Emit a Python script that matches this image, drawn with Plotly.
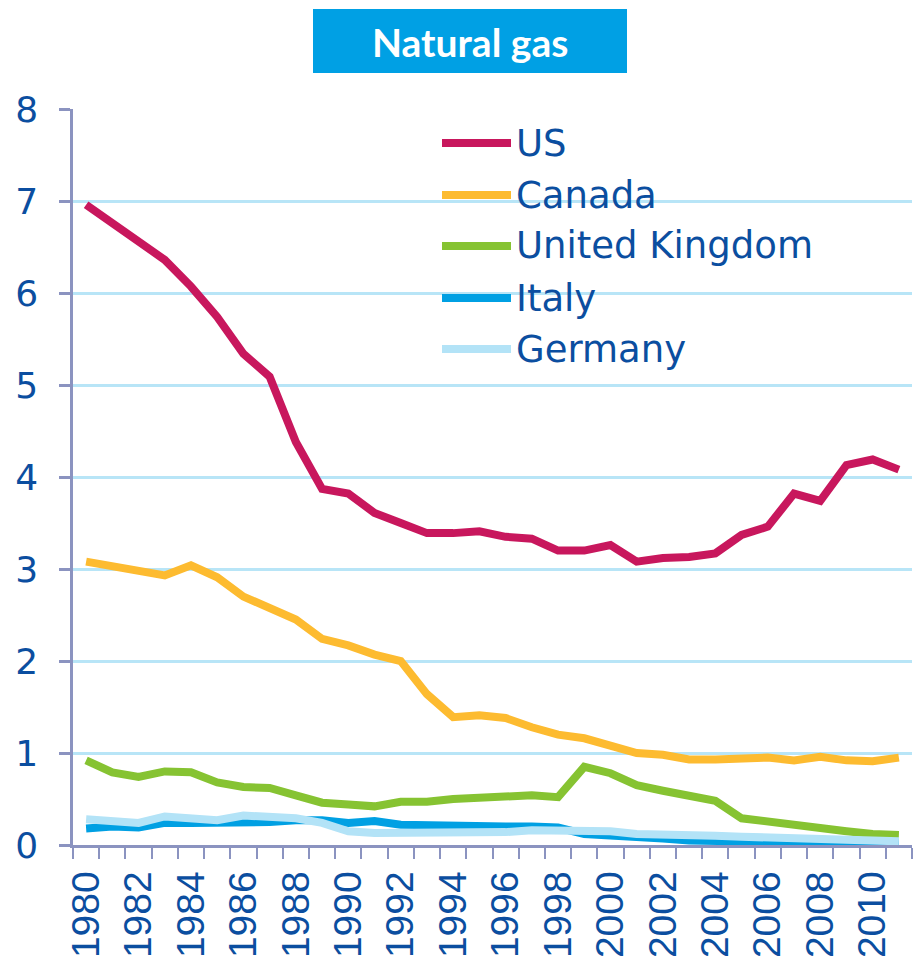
import plotly.graph_objects as go

years = list(range(1980, 2012))
us = [6.96, 6.76, 6.54, 6.36, 6.07, 5.74, 5.34, 5.09, 4.38, 3.87, 3.82, 3.61, 3.50, 3.39, 3.39, 3.41,
      3.35, 3.33, 3.20, 3.20, 3.26, 3.08, 3.12, 3.13, 3.17, 3.37, 3.46, 3.82, 3.74, 4.13, 4.19, 4.08]
canada = [3.08, 3.03, 2.97, 2.93, 3.04, 2.91, 2.70, 2.57, 2.45, 2.24, 2.17, 2.07, 2.00, 1.64, 1.39, 1.41,
          1.38, 1.28, 1.20, 1.16, 1.09, 1.00, 0.98, 0.93, 0.93, 0.95, 0.95, 0.92, 0.96, 0.92, 0.91, 0.95]
uk = [0.92, 0.79, 0.74, 0.80, 0.79, 0.68, 0.63, 0.62, 0.54, 0.46, 0.44, 0.42, 0.47, 0.47, 0.50, 0.51,
      0.54, 0.54, 0.52, 0.85, 0.78, 0.65, 0.59, 0.53, 0.48, 0.29, 0.25, 0.21, 0.17, 0.15, 0.12, 0.11]
italy = [0.18, 0.20, 0.19, 0.24, 0.24, 0.24, 0.24, 0.25, 0.27, 0.27, 0.24, 0.26, 0.22, 0.21, 0.21, 0.21,
         0.20, 0.20, 0.19, 0.12, 0.11, 0.08, 0.07, 0.05, 0.04, 0.04, 0.03, 0.02, 0.02, 0.02, 0.02, 0.02]
germany = [0.28, 0.25, 0.24, 0.31, 0.29, 0.27, 0.32, 0.31, 0.29, 0.24, 0.15, 0.13, 0.13, 0.13, 0.14, 0.14,
           0.14, 0.16, 0.16, 0.16, 0.15, 0.12, 0.12, 0.11, 0.10, 0.09, 0.08, 0.07, 0.06, 0.05, 0.04, 0.04]

series_names = ["US", "Canada", "United Kingdom", "Italy", "Germany"]
series_values = [us, canada, uk, italy, germany]
series_colors = ["#c8175d", "#fdbb30", "#86c332", "#00a0e3", "#b3e3f7"]

x_tick_labels = [str(y) for y in range(1980, 2011, 2)]
y_tick_values = list(range(0, 9))
title_text = "Natural gas"

W, H = 921, 966
OFF = 8  # page body margin
# desired plot area in page pixels: x 73..912, y 109..845
L, R, T, B = 73 - OFF, W - 912 + OFF, 109 - OFF, H - 845 + OFF
PW, PH = W - L - R, H - T - B
TXT = "#0b4ea0"


def px2x(px):
    return (px - OFF - L) / PW


def py2y(py):
    return (H - B - (py - OFF)) / PH


fig = go.Figure()
for name, vals, col in zip(series_names, series_values, series_colors):
    fig.add_trace(go.Scatter(x=years, y=vals, mode="lines", name=name,
                             line=dict(color=col, width=8)))

# custom legend
leg_y = [143, 195, 246, 298, 349]
for name, col, py in zip(series_names, series_colors, leg_y):
    fig.add_shape(type="line", xref="paper", yref="paper",
                  x0=px2x(442), x1=px2x(511), y0=py2y(py), y1=py2y(py),
                  line=dict(color=col, width=8))
    fig.add_annotation(xref="paper", yref="paper", x=px2x(514), y=py2y(py),
                       text=name, showarrow=False, xanchor="left", yanchor="middle",
                       font=dict(family="DejaVu Sans", size=37, color=TXT))

# title box
fig.add_shape(type="rect", xref="paper", yref="paper",
              x0=px2x(313), x1=px2x(627), y0=py2y(73), y1=py2y(9),
              fillcolor="#00a0e4", line=dict(width=0), layer="above")
fig.add_annotation(xref="paper", yref="paper", x=px2x(470), y=py2y(42),
                   text="<b>" + title_text + "</b>", showarrow=False,
                   xanchor="center", yanchor="middle",
                   font=dict(family="Lato", size=39, color="white"))

axis_col = "#8b93c0"
fig.update_xaxes(range=[1979.5, 2011.5], tickmode="array",
                 tickvals=list(range(1980, 2011, 2)), ticktext=x_tick_labels,
                 tickangle=-90, ticks="", showgrid=False, zeroline=False,
                 showline=True, linecolor=axis_col, linewidth=2.5,
                 tickfont=dict(family="Liberation Sans", size=39, color=TXT),
                 ticklabelstandoff=8,
                 minor=dict(tick0=1979.5, dtick=1, ticks="outside", ticklen=11,
                            tickcolor=axis_col, tickwidth=2, showgrid=False),
                 automargin=False, fixedrange=True)
fig.update_yaxes(range=[0, 8], tickmode="array", tickvals=y_tick_values,
                 ticks="outside", ticklen=11, tickcolor=axis_col, tickwidth=2.5,
                 showgrid=True, gridcolor="#b8e5f7", gridwidth=2.5, zeroline=False,
                 showline=True, linecolor=axis_col, linewidth=2.5,
                 tickfont=dict(family="DejaVu Sans", size=36, color=TXT),
                 ticklabelstandoff=14, automargin=False, fixedrange=True)

fig.update_layout(width=W, height=H, margin=dict(l=L, r=R, t=T, b=B),
                  plot_bgcolor="white", paper_bgcolor="white", showlegend=False)

fig.write_html("out.html")
